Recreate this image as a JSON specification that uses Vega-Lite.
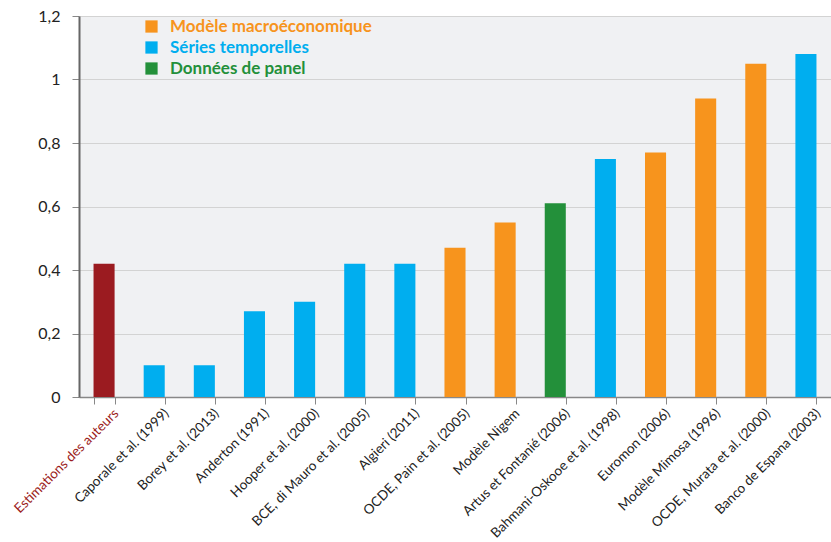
{
  "$schema": "https://vega.github.io/schema/vega-lite/v6.json",
  "width": 752,
  "height": 381,
  "autosize": {"type": "none"},
  "padding": {"left": 79, "top": 16, "right": 0, "bottom": 145},
  "background": "#ffffff",
  "config": {
    "view": {"fill": "#f0f1f3", "stroke": null},
    "font": "Lato"
  },
  "data": {
    "values": [
      {"etude": "Estimations des auteurs", "valeur": 0.42, "type": "Estimations des auteurs"},
      {"etude": "Caporale et al. (1999)", "valeur": 0.10, "type": "Séries temporelles"},
      {"etude": "Borey et al. (2013)", "valeur": 0.10, "type": "Séries temporelles"},
      {"etude": "Anderton (1991)", "valeur": 0.27, "type": "Séries temporelles"},
      {"etude": "Hooper et al. (2000)", "valeur": 0.30, "type": "Séries temporelles"},
      {"etude": "BCE, di Mauro et al. (2005)", "valeur": 0.42, "type": "Séries temporelles"},
      {"etude": "Algieri (2011)", "valeur": 0.42, "type": "Séries temporelles"},
      {"etude": "OCDE, Pain et al. (2005)", "valeur": 0.47, "type": "Modèle macroéconomique"},
      {"etude": "Modèle Nigem", "valeur": 0.55, "type": "Modèle macroéconomique"},
      {"etude": "Artus et Fontanié (2006)", "valeur": 0.61, "type": "Données de panel"},
      {"etude": "Bahmani-Oskooe et al. (1998)", "valeur": 0.75, "type": "Séries temporelles"},
      {"etude": "Euromon (2006)", "valeur": 0.77, "type": "Modèle macroéconomique"},
      {"etude": "Modèle Mimosa (1996)", "valeur": 0.94, "type": "Modèle macroéconomique"},
      {"etude": "OCDE, Murata et al. (2000)", "valeur": 1.05, "type": "Modèle macroéconomique"},
      {"etude": "Banco de Espana (2003)", "valeur": 1.08, "type": "Séries temporelles"}
    ]
  },
  "mark": {"type": "bar"},
  "encoding": {
    "x": {
      "field": "etude",
      "type": "nominal",
      "sort": null,
      "title": null,
      "scale": {"paddingInner": 0.58, "paddingOuter": 0.29},
      "axis": {
        "labelAngle": -45,
        "labelFontSize": 13.5,
        "labelOffset": 7,
        "labelColor": {"condition": {"test": "datum.value === 'Estimations des auteurs'", "value": "#9b1b20"}, "value": "#222222"},
        "tickBand": "extent",
        "tickColor": "#888888",
        "tickSize": 7,
        "domainColor": "#888888",
        "domainWidth": 1.5,
        "labelPadding": 2,
        "labelLimit": 300
      }
    },
    "y": {
      "field": "valeur",
      "type": "quantitative",
      "title": null,
      "scale": {"domain": [0, 1.2], "nice": false},
      "axis": {
        "values": [0, 0.2, 0.4, 0.6, 0.8, 1, 1.2],
        "labelExpr": "replace(format(datum.value, '.1~f'), '.', ',')",
        "labelFontSize": 16,
        "labelColor": "#222222",
        "labelPadding": 12,
        "gridColor": "#d3d3d3",
        "gridWidth": 1,
        "tickColor": "#888888",
        "tickSize": 7,
        "domainColor": "#666666",
        "domainWidth": 2
      }
    },
    "color": {
      "field": "type",
      "type": "nominal",
      "scale": {
        "domain": ["Estimations des auteurs", "Modèle macroéconomique", "Séries temporelles", "Données de panel"],
        "range": ["#9b1b20", "#f7941d", "#00aeef", "#23903a"]
      },
      "legend": {
        "values": ["Modèle macroéconomique", "Séries temporelles", "Données de panel"],
        "title": null,
        "orient": "none",
        "legendX": 64,
        "legendY": 2,
        "symbolType": "square",
        "symbolSize": 150,
        "symbolStrokeWidth": 0,
        "labelFontSize": 17,
        "labelFontWeight": "bold",
        "labelLimit": 400,
        "rowPadding": 3,
        "labelOffset": 10,
        "encode": {
          "labels": {"update": {"fill": {"scale": "color", "field": "value"}}},
          "symbols": {"update": {"fillOpacity": {"value": 1}, "strokeWidth": {"value": 0}}}
        }
      }
    }
  }
}
